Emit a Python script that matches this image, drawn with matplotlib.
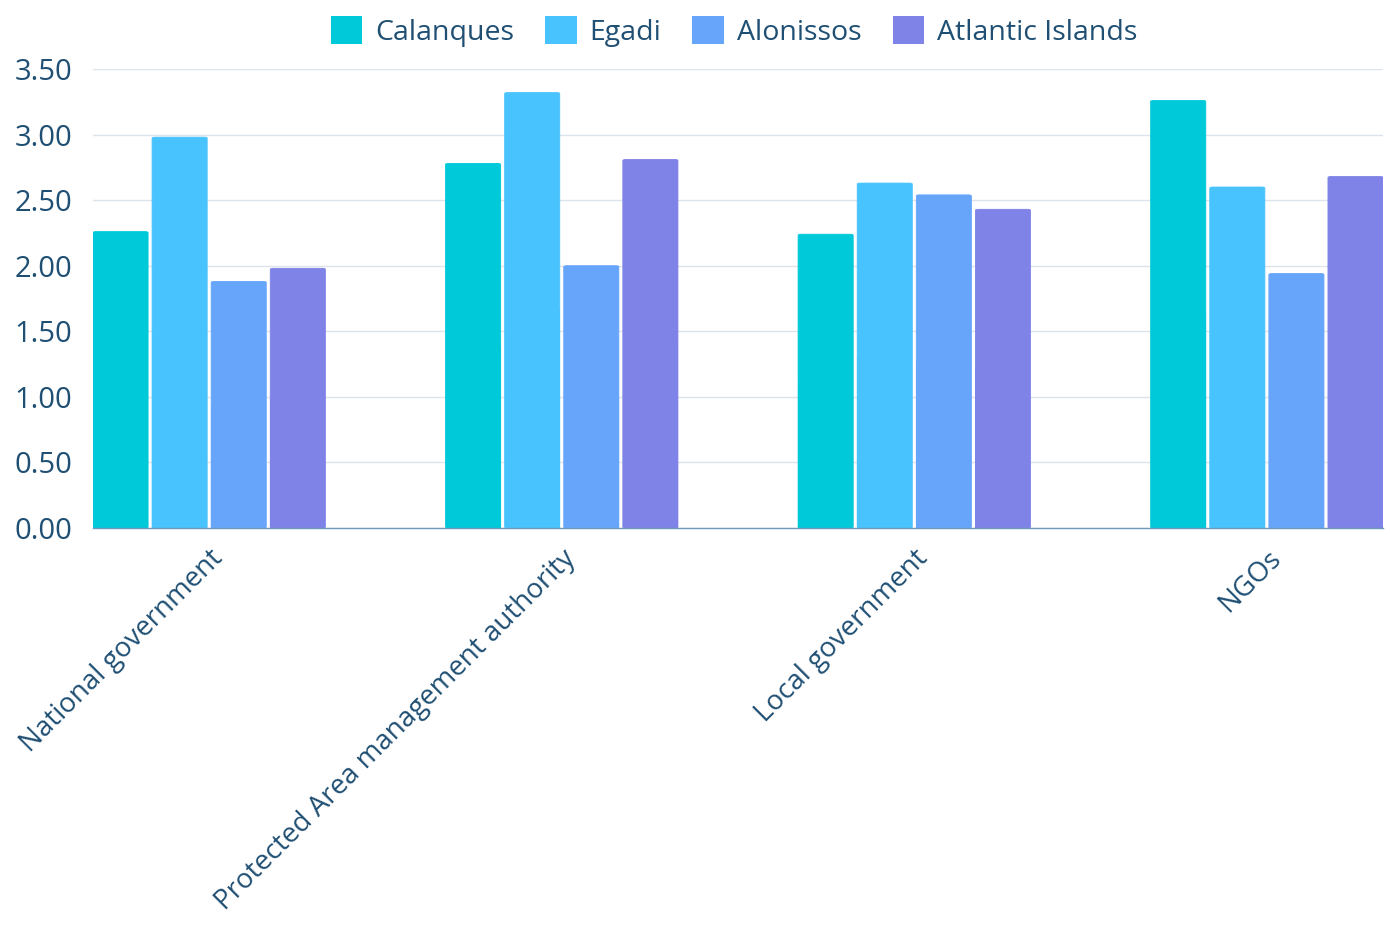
import matplotlib.pyplot as plt
from matplotlib.patches import FancyBboxPatch
from matplotlib.font_manager import FontProperties
import numpy as np

categories = ["National government", "Protected Area management authority",
              "Local government", "NGOs"]
series_names = ["Calanques", "Egadi", "Alonissos", "Atlantic Islands"]
calanques = [2.26, 2.78, 2.24, 3.26]
egadi = [2.98, 3.32, 2.63, 2.60]
alonissos = [1.88, 2.00, 2.54, 1.94]
atlantic = [1.98, 2.81, 2.43, 2.68]
y_ticks = [0.0, 0.5, 1.0, 1.5, 2.0, 2.5, 3.0, 3.5]

colors = ["#00c9d9", "#49c3fd", "#66a5fa", "#7f82e6"]
text_color = "#1f4f73"

fig = plt.figure(figsize=(13.9, 9.26), dpi=100)
ax = fig.add_axes([0.0669, 0.4298, 0.9281, 0.4957])

stride = 59 / 352
width = 55 / 352
x = np.arange(len(categories))
all_series = [calanques, egadi, alonissos, atlantic]

for i, (name, vals, col) in enumerate(zip(series_names, all_series, colors)):
    offs = (i - 1.5) * stride
    bars = ax.bar(x + offs, vals, width, color=col, label=name, alpha=0)
    for b in bars:
        # rounded top corners, square bottom
        p = FancyBboxPatch((b.get_x(), b.get_y()), b.get_width(), b.get_height(),
                           boxstyle="round,pad=0,rounding_size=0.008",
                           facecolor=col, edgecolor=col, linewidth=0.6, zorder=3)
        ax.add_patch(p)
        ax.add_patch(plt.Rectangle((b.get_x(), 0), b.get_width(), b.get_height() * 0.5,
                                   facecolor=col, edgecolor="none", zorder=3))

ax.set_xlim(-116 / 352, 3 + 116 / 352)
ax.set_ylim(0, 3.5)
ax.set_yticks(y_ticks)
ax.set_yticklabels([f"{v:.2f}" for v in y_ticks])
ax.set_xticks(x)
ax.set_xticklabels(categories, rotation=45, ha="right", rotation_mode="anchor")

for lab in ax.get_xticklabels():
    lab.set_fontfamily("Open Sans")
    lab.set_fontsize(20)
    lab.set_color(text_color)
for lab in ax.get_yticklabels():
    lab.set_fontfamily("Open Sans")
    lab.set_fontsize(21)
    lab.set_color(text_color)

ax.tick_params(axis="both", length=0)
ax.tick_params(axis="y", pad=15)
ax.tick_params(axis="x", pad=12)
ax.grid(axis="y", color="#dce3ea", linewidth=1.0, zorder=0)
ax.set_axisbelow(True)
for s in ["top", "right", "left"]:
    ax.spines[s].set_visible(False)
ax.spines["bottom"].set_color("#6d9bbd")
ax.spines["bottom"].set_linewidth(1.0)
ax.spines["bottom"].set_zorder(4)

handles = [plt.Rectangle((0, 0), 1, 1, facecolor=c, edgecolor="none") for c in colors]
leg = fig.legend(handles, series_names, loc="center", bbox_to_anchor=(0.528, 0.966),
                 ncol=4, frameon=False, handlelength=1.1, handleheight=1.1,
                 handletextpad=0.45, columnspacing=1.1,
                 prop=FontProperties(family=["Liberation Sans Narrow", "Open Sans"], size=20.5))
for t in leg.get_texts():
    t.set_color(text_color)

fig.savefig("out.png", dpi=100)
